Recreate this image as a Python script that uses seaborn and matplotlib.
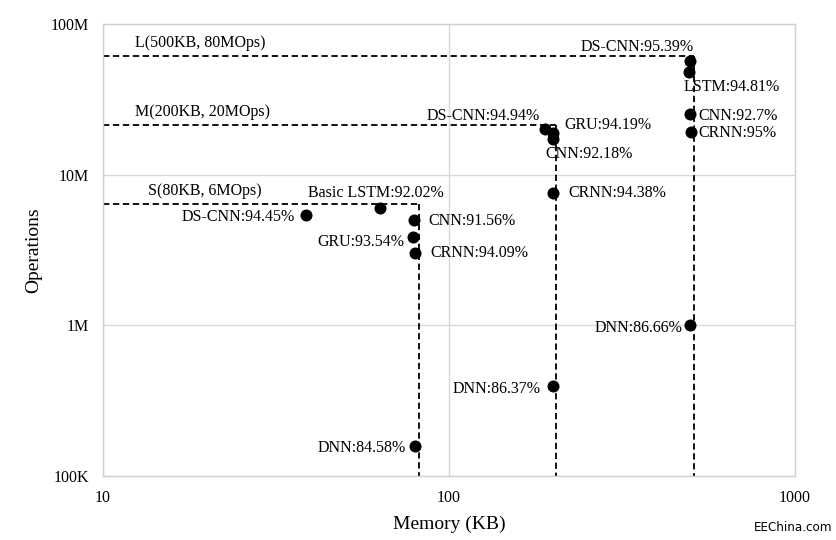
import matplotlib
matplotlib.use("Agg")
import matplotlib.pyplot as plt
import seaborn as sns
import pandas as pd

# ---- data ----
models = ["DS-CNN", "Basic LSTM", "CNN", "GRU", "CRNN", "DNN",
          "DS-CNN", "GRU", "CNN", "CRNN", "DNN",
          "DS-CNN", "LSTM", "CNN", "CRNN", "DNN"]
accuracy = ["94.45%", "92.02%", "91.56%", "93.54%", "94.09%", "84.58%",
            "94.94%", "94.19%", "92.18%", "94.38%", "86.37%",
            "95.39%", "94.81%", "92.7%", "95%", "86.66%"]
memory_kb = [38.6, 63.3, 79.0, 78.8, 79.7, 80.0,
             189.2, 200.0, 199.4, 199.8, 199.4,
             497.6, 494.5, 497.8, 499.5, 496.6]
operations = [5.4e6, 6.0e6, 5.0e6, 3.85e6, 3.0e6, 1.59e5,
              20.0e6, 19.0e6, 17.3e6, 7.6e6, 3.97e5,
              57e6, 48e6, 25.3e6, 19.3e6, 1.0e6]

limit_names = ["S(80KB, 6MOps)", "M(200KB, 20MOps)", "L(500KB, 80MOps)"]
limit_mem = [82, 204, 510]
limit_ops = [6.4e6, 21.5e6, 61e6]

x_ticks = [10, 100, 1000]
x_ticklabels = ["10", "100", "1000"]
y_ticks = [1e5, 1e6, 1e7, 1e8]
y_ticklabels = ["100K", "1M", "10M", "100M"]

# label placement (style): (dx px, dy px, ha)
label_style = [(-11, -2, "right"), (-4, 15, "center"), (15, -1, "left"),
               (-9, -5, "right"), (15, 0, "left"), (-10, -2, "right"),
               (-5, 13, "right"), (11, 8, "left"), (-7, -15, "left"),
               (15, 0, "left"), (-12, -3, "right"),
               (4, 14, "right"), (-6, -15, "left"), (8, -2, "left"),
               (8, -1, "left"), (-7, -3, "right")]

df = pd.DataFrame({"Memory": memory_kb, "Operations": operations,
                   "label": [f"{m}:{a}" for m, a in zip(models, accuracy)]})

sns.set_theme(style="white")
plt.rcParams["font.family"] = ["Liberation Serif", "DejaVu Serif"]

fig = plt.figure(figsize=(8.37, 5.40), dpi=100)
ax = fig.add_axes([103 / 837, 1 - 476 / 540, 692 / 837, 452 / 540])
ax.set_xscale("log")
ax.set_yscale("log")
ax.set_xlim(10, 1000)
ax.set_ylim(1e5, 1e8)

ax.grid(True, which="major", color="#d9d9d9", linewidth=1.0)
ax.set_axisbelow(True)
for sp in ax.spines.values():
    sp.set_color("#d0d0d0")
    sp.set_linewidth(1.0)

# limit boxes
for name, m, o in zip(limit_names, limit_mem, limit_ops):
    ax.plot([10, m], [o, o], color="black", linestyle=(0, (3.5, 2)), linewidth=1.3, zorder=2)
    ax.plot([m, m], [o, 1e5], color="black", linestyle=(0, (3.5, 2)), linewidth=1.3, zorder=2)
label_dx = {"S(80KB, 6MOps)": 45, "M(200KB, 20MOps)": 32, "L(500KB, 80MOps)": 32}
for name, o in zip(limit_names, limit_ops):
    ax.annotate(name, xy=(10, o), xytext=(label_dx[name], 5), textcoords="offset pixels",
                ha="left", va="bottom", fontsize=11.5, color="black")

sns.scatterplot(data=df, x="Memory", y="Operations", ax=ax, color="black",
                s=75, edgecolor="black", linewidth=0, zorder=3, legend=False)

for (x, y, lab), (dx, dy, ha) in zip(zip(df["Memory"], df["Operations"], df["label"]), label_style):
    ax.annotate(lab, xy=(x, y), xytext=(dx, dy), textcoords="offset pixels",
                ha=ha, va="center", fontsize=11.5, color="black")

ax.set_xticks(x_ticks)
ax.set_xticklabels(x_ticklabels)
ax.set_yticks(y_ticks)
ax.set_yticklabels(y_ticklabels)
ax.minorticks_off()
ax.tick_params(axis="both", length=0, labelsize=11.5, labelcolor="black")
ax.tick_params(axis="y", pad=10)
ax.tick_params(axis="x", pad=10)

ax.set_xlabel("Memory (KB)", fontsize=14, color="black", labelpad=7)
ax.set_ylabel("Operations", fontsize=14, color="black", labelpad=6)

fig.text(0.994, 0.012, "EEChina.com", ha="right", va="bottom", fontsize=9.5,
         family=["DejaVu Sans"], fontstretch="condensed", color="black")

fig.savefig("out.png", dpi=100, facecolor="white")
